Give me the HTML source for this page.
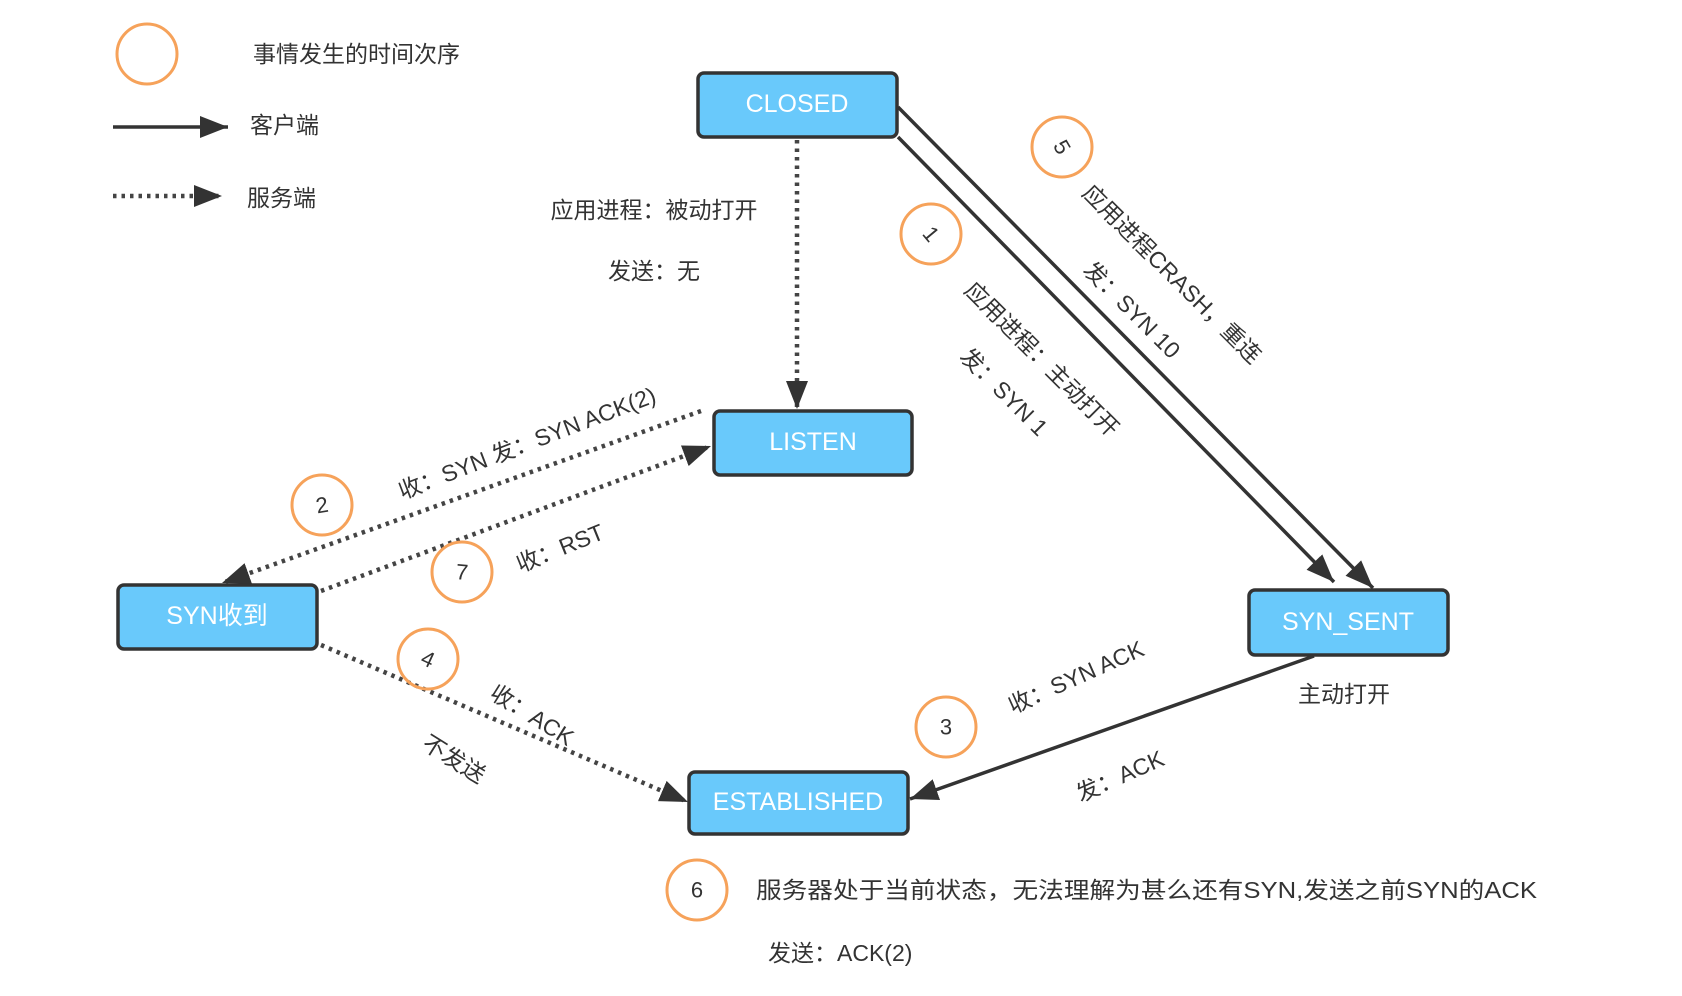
<!DOCTYPE html>
<html><head><meta charset="utf-8"><style>
html,body{margin:0;padding:0;background:#fff;}
svg{display:block;}
text{font-family:"Liberation Sans","Noto Sans CJK SC",sans-serif;fill:#333;}
.bt{fill:#fff;font-size:25px;text-anchor:middle;dominant-baseline:central;}
.lb{font-size:23px;dominant-baseline:central;}
.c{fill:none;stroke:#f6a25a;stroke-width:3;}
.d{font-size:22px;text-anchor:middle;dominant-baseline:central;}
.sol{stroke:#333;stroke-width:3.5;fill:none;}
.dot{stroke:#444;stroke-width:4.5;fill:none;stroke-dasharray:3.5 5;}
</style></head><body>
<svg width="1682" height="996" viewBox="0 0 1682 996" xmlns="http://www.w3.org/2000/svg">
<defs>
<marker id="ah" markerUnits="userSpaceOnUse" markerWidth="30" markerHeight="24" refX="28" refY="11" orient="auto">
<path d="M0,0 L28,11 L0,22 Z" fill="#333"/>
</marker>
</defs>

<!-- legend -->
<circle class="c" cx="147" cy="54" r="30"/>
<text class="lb" x="253" y="54">事情发生的时间次序</text>
<line class="sol" x1="113" y1="127" x2="228" y2="127" marker-end="url(#ah)"/>
<text class="lb" x="250" y="125">客户端</text>
<line class="dot" x1="113" y1="196" x2="222" y2="196" marker-end="url(#ah)"/>
<text class="lb" x="247" y="198">服务端</text>

<!-- connectors -->
<line class="dot" x1="797" y1="140" x2="797" y2="409" marker-end="url(#ah)"/>
<line class="sol" x1="898" y1="107" x2="1373" y2="588" marker-end="url(#ah)"/>
<line class="sol" x1="898" y1="137" x2="1334" y2="582" marker-end="url(#ah)"/>
<line class="dot" x1="701" y1="411" x2="222" y2="583" marker-end="url(#ah)"/>
<line class="dot" x1="321" y1="591" x2="711" y2="446" marker-end="url(#ah)"/>
<line class="dot" x1="321" y1="645" x2="688" y2="802" marker-end="url(#ah)"/>
<line class="sol" x1="1314" y1="656" x2="910" y2="799" marker-end="url(#ah)"/>

<!-- boxes -->
<g stroke="#333" stroke-width="3.5" fill="#69c9fb">
<rect x="698" y="73" width="199" height="64" rx="6"/>
<rect x="714" y="411" width="198" height="64" rx="6"/>
<rect x="118" y="585" width="199" height="64" rx="6"/>
<rect x="1249" y="590" width="199" height="65" rx="6"/>
<rect x="689" y="772" width="219" height="62" rx="6"/>
</g>
<text class="bt" x="797" y="104">CLOSED</text>
<text class="bt" x="813" y="442">LISTEN</text>
<text class="bt" x="217" y="616">SYN收到</text>
<text class="bt" x="1348" y="622">SYN_SENT</text>
<text class="bt" x="798" y="802">ESTABLISHED</text>

<!-- circles -->
<circle class="c" cx="1062" cy="147" r="30"/><text class="d" transform="translate(1062,147) rotate(60)">5</text>
<circle class="c" cx="931" cy="234" r="30"/><text class="d" transform="translate(931,234) rotate(50)">1</text>
<circle class="c" cx="322" cy="505" r="30"/><text class="d" transform="translate(322,505) rotate(-10)">2</text>
<circle class="c" cx="462" cy="572" r="30"/><text class="d" transform="translate(462,572) rotate(5)">7</text>
<circle class="c" cx="428" cy="659" r="30"/><text class="d" transform="translate(428,659) rotate(25)">4</text>
<circle class="c" cx="946" cy="727" r="30"/><text class="d" x="946" y="727">3</text>
<circle class="c" cx="697" cy="890" r="30"/><text class="d" x="697" y="890">6</text>

<!-- labels -->
<g style="text-anchor:middle">
<text class="lb" x="654" y="210">应用进程：被动打开</text>
<text class="lb" x="654" y="271">发送：无</text>
<text class="lb" transform="translate(1172,274) rotate(45)">应用进程CRASH，重连</text>
<text class="lb" transform="translate(1132,310) rotate(45)">发：SYN 10</text>
<text class="lb" transform="translate(1042,359) rotate(45)">应用进程：主动打开</text>
<text class="lb" transform="translate(1004,392) rotate(45)">发：SYN 1</text>
<text class="lb" transform="translate(527,443) rotate(-21)">收：SYN 发：SYN ACK(2)</text>
<text class="lb" transform="translate(560,548) rotate(-22)">收：RST</text>
<text class="lb" transform="translate(532,715) rotate(32)">收：ACK</text>
<text class="lb" transform="translate(454,759) rotate(32)">不发送</text>
<text class="lb" transform="translate(1076,677) rotate(-24)">收：SYN ACK</text>
<text class="lb" transform="translate(1120,776) rotate(-24)">发：ACK</text>
<text class="lb" x="1344" y="694">主动打开</text>
</g>
<text class="lb" x="756" y="890" textLength="781" lengthAdjust="spacingAndGlyphs">服务器处于当前状态，无法理解为甚么还有SYN,发送之前SYN的ACK</text>
<text class="lb" x="768" y="953">发送：ACK(2)</text>
</svg>
</body></html>
